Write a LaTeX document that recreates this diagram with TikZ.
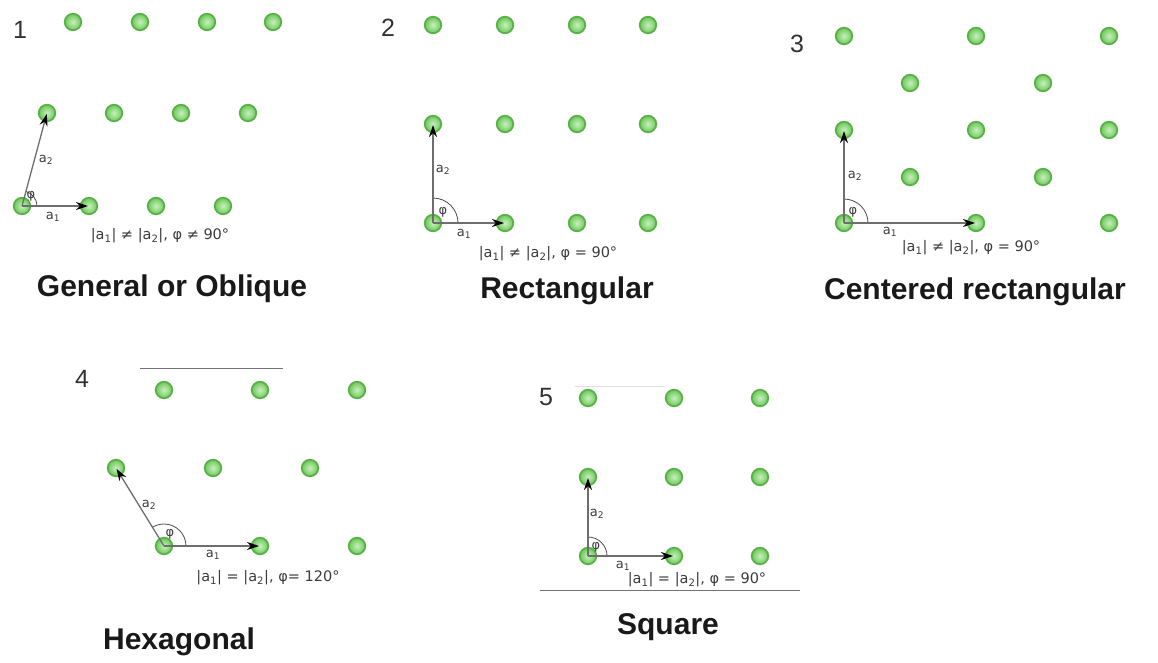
\documentclass[tikz,border=0pt]{standalone}
\usepackage{fontspec}
\setmainfont{Liberation Sans}
\newfontfamily\symf{DejaVu Sans}
\usetikzlibrary{arrows.meta}
\definecolor{ringc}{RGB}{88,178,72}
\definecolor{innerc}{RGB}{200,240,190}
\definecolor{outerc}{RGB}{110,200,90}
\definecolor{vecc}{RGB}{110,110,110}
\definecolor{txtc}{RGB}{60,60,60}
\tikzset{
  dot/.style={circle, inner sep=0pt, minimum size=16.5pt, line width=1.8pt, draw=ringc, inner color=innerc, outer color=outerc},
  vec/.style={draw=vecc, line width=1.3pt, -{Stealth[length=12pt,width=8pt,black]}, shorten >=1pt},
  ang/.style={draw=black!70, line width=0.8pt},
  phil/.style={font=\symf\fontsize{13}{13}\selectfont, text=txtc, inner sep=0pt},
  alab/.style={font=\symf\fontsize{13}{13}\selectfont, text=txtc, inner sep=0pt},
  form/.style={font=\symf\fontsize{14.5}{15}\selectfont, text=txtc, inner sep=0pt},
  title/.style={font=\bfseries\fontsize{30}{31}\selectfont, text=black!90, inner sep=0pt},
  num/.style={font=\fontsize{25}{26}\selectfont, text=black!80, inner sep=0pt},
  frame/.style={draw=black!55, line width=0.9pt}
}
\newcommand{\aone}{a\textsubscript{1}}
\newcommand{\atwo}{a\textsubscript{2}}
\begin{document}
\begin{tikzpicture}[x=1pt,y=-1pt]
\useasboundingbox (0,0) rectangle (1158,663);

% ---------- Panel 1: oblique ----------
\node[num] (n1) at (20,30) {1};
\foreach \x [count=\i] in {73,140,207,273} \node[dot] (A\i) at (\x,22) {};
\foreach \x [count=\i] in {47,114,181,248} \node[dot] (B\i) at (\x,113) {};
\foreach \x [count=\i] in {22,89,156,223} \node[dot] (C\i) at (\x,206) {};
\draw[ang] (C1.center) ++(15,0) arc[start angle=0, end angle=-75, radius=15];
\node[phil] (phi1) at (31,196) {φ};
\draw[vec] (C1.center) -- (C2.center);
\draw[vec] (C1.center) -- (B1.center);
\node[alab] (la1) at (53,217) {\aone};
\node[alab] (lb1) at (46,160) {\atwo};
\node[form] (f1) at (160,236) {|\aone| ≠ |\atwo|, φ ≠ 90°};
\node[title] (t1) at (172,289) {General or Oblique};

% ---------- Panel 2: rectangular ----------
\node[num] (n2) at (388,28) {2};
\foreach \x [count=\i] in {433,505,577,648} {
  \node[dot] (D\i) at (\x,25) {};
  \node[dot] (E\i) at (\x,124) {};
  \node[dot] (F\i) at (\x,223) {};
}
\draw[ang] (F1.center) ++(25,0) arc[start angle=0, end angle=-90, radius=25];
\node[phil] (phi2) at (443,212) {φ};
\draw[vec] (F1.center) -- (F2.center);
\draw[vec] (F1.center) -- (E1.center);
\node[alab] (la2) at (464,234) {\aone};
\node[alab] (lb2) at (443,170) {\atwo};
\node[form] (f2) at (548,254) {|\aone| ≠ |\atwo|, φ = 90°};
\node[title] (t2) at (567,291) {Rectangular};

% ---------- Panel 3: centered rectangular ----------
\node[num] (n3) at (797,44) {3};
\foreach \x [count=\i] in {844,976,1109} {
  \node[dot] (G\i) at (\x,36) {};
  \node[dot] (I\i) at (\x,130) {};
  \node[dot] (K\i) at (\x,223) {};
}
\foreach \x [count=\i] in {910,1043} {
  \node[dot] (H\i) at (\x,83) {};
  \node[dot] (J\i) at (\x,177) {};
}
\draw[ang] (K1.center) ++(24,0) arc[start angle=0, end angle=-90, radius=24];
\node[phil] (phi3) at (853,212) {φ};
\draw[vec] (K1.center) -- (K2.center);
\draw[vec] (K1.center) -- (I1.center);
\node[alab] (la3) at (890,232) {\aone};
\node[alab] (lb3) at (855,176) {\atwo};
\node[form] (f3) at (971,248) {|\aone| ≠ |\atwo|, φ = 90°};
\node[title] (t3) at (975,292) {Centered rectangular};

% ---------- Panel 4: hexagonal ----------
\node[num] (n4) at (82,379) {4};
\coordinate (l4a) at (140,368);
\coordinate (l4b) at (283,368);
\draw[frame] (l4a) -- (l4b);
\foreach \x [count=\i] in {164,260,357} {
  \node[dot] (L\i) at (\x,390) {};
  \node[dot] (N\i) at (\x,546) {};
}
\foreach \x [count=\i] in {116,213,310} \node[dot] (M\i) at (\x,468) {};
\draw[ang] (N1.center) ++(22,0) arc[start angle=0, end angle=-121, radius=22];
\node[phil] (phi4) at (170,534) {φ};
\draw[vec] (N1.center) -- (N2.center);
\draw[vec] (N1.center) -- (M1.center);
\node[alab] (la4) at (213,555) {\aone};
\node[alab] (lb4) at (149,505) {\atwo};
\node[form] (f4) at (268,578) {|\aone| = |\atwo|, φ= 120°};
\node[title] (t4) at (179,642) {Hexagonal};

% ---------- Panel 5: square ----------
\node[num] (n5) at (546,397) {5};
\coordinate (l5a) at (575,386);
\coordinate (l5b) at (665,386);
\draw[draw=black!12, line width=0.8pt] (l5a) -- (l5b);
\foreach \x [count=\i] in {588,674,760} {
  \node[dot] (P\i) at (\x,398) {};
  \node[dot] (Q\i) at (\x,477) {};
  \node[dot] (R\i) at (\x,556) {};
}
\draw[ang] (R1.center) ++(19,0) arc[start angle=0, end angle=-90, radius=19];
\node[phil] (phi5) at (596,547) {φ};
\draw[vec] (R1.center) -- (R2.center);
\draw[vec] (R1.center) -- (Q1.center);
\node[alab] (la5) at (623,566) {\aone};
\node[alab] (lb5) at (597,514) {\atwo};
\node[form] (f5) at (697,580) {|\aone| = |\atwo|, φ = 90°};
\coordinate (l6a) at (540,590);
\coordinate (l6b) at (800,590);
\draw[frame] (l6a) -- (l6b);
\node[title] (t5) at (668,627) {Square};
\end{tikzpicture}
\end{document}
